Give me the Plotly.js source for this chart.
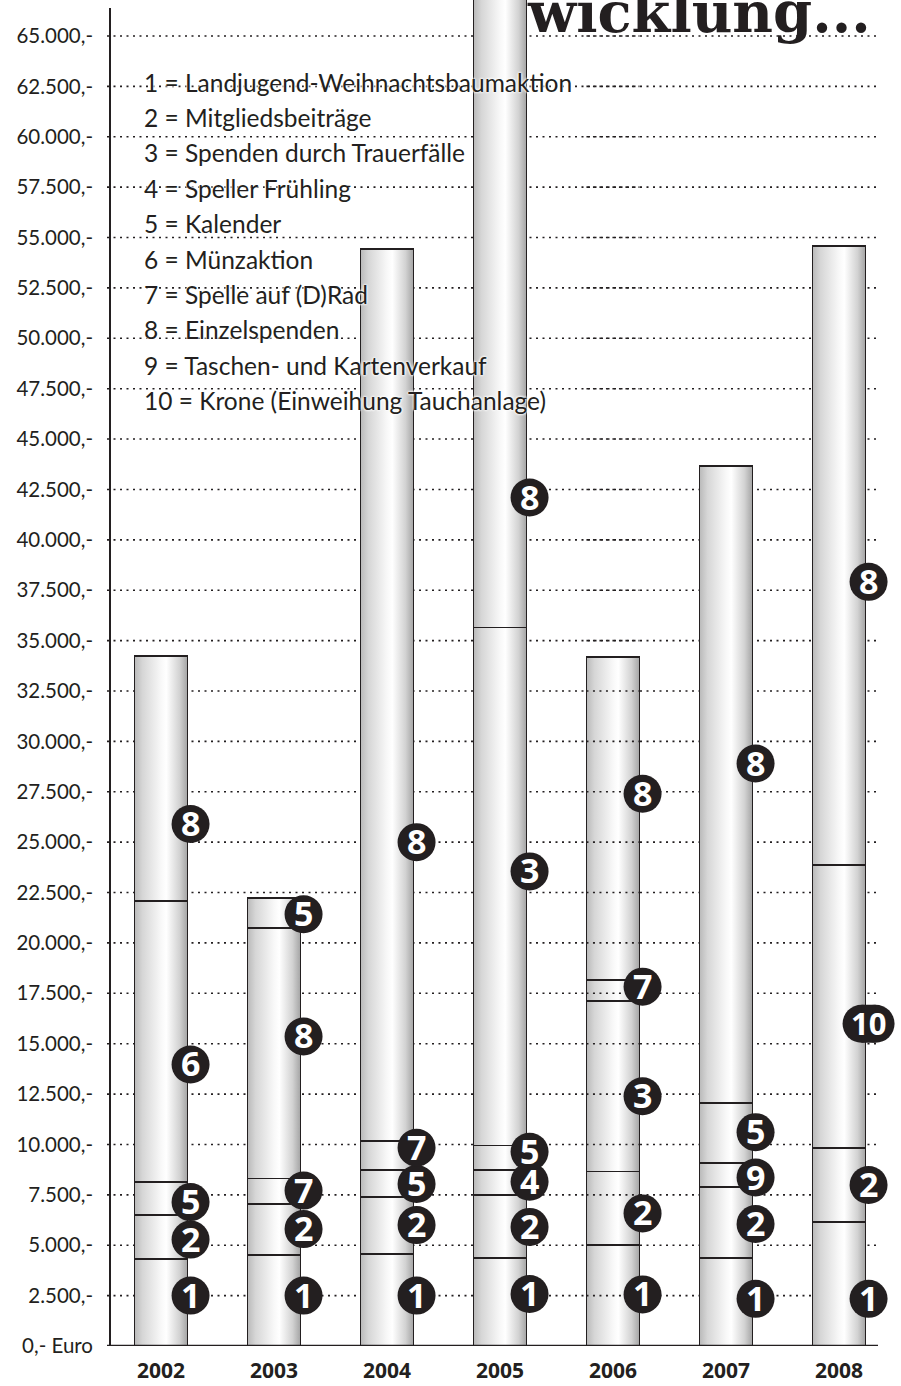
<!DOCTYPE html>
<html>
<head>
<meta charset="utf-8">
<script src="https://cdn.plot.ly/plotly-3.0.1.min.js"></script>
<style>
  html, body { margin: 0; padding: 0; background: #ffffff; }
  #chart { width: 901px; height: 1386px; }
</style>
</head>
<body>
<div id="chart"></div>
<script>
// ---------- DATA ----------
const years = [2002, 2003, 2004, 2005, 2006, 2007, 2008];
const yearLabels = ['2002', '2003', '2004', '2005', '2006', '2007', '2008'];

// segment category numbers per year (bottom to top)
const cats2002 = [1, 2, 5, 6, 8];
const cats2003 = [1, 2, 7, 8, 5];
const cats2004 = [1, 2, 5, 7, 8];
const cats2005 = [1, 2, 4, 5, 3, 8];
const cats2006 = [1, 2, 3, 7, 8];
const cats2007 = [1, 2, 9, 5, 8];
const cats2008 = [1, 2, 10, 8];

// segment values in Euro (bottom to top)
const vals2002 = [4300, 2190, 1630, 13945, 12185];
const vals2003 = [4500, 2540, 1270, 12425, 1480];
const vals2004 = [4580, 2800, 1360, 1420, 44290];
const vals2005 = [4350, 3130, 1260, 1210, 25700, 35000];
const vals2006 = [5000, 3660, 8470, 1050, 16000];
const vals2007 = [4350, 3520, 1200, 2980, 31610];
const vals2008 = [6140, 3690, 14050, 30700];

// value at which each segment's number badge sits
const lab2002 = [2500, 5280, 7140, 13970, 25900];
const lab2003 = [2500, 5800, 7710, 15360, 21420];
const lab2004 = [2500, 6000, 8040, 9840, 25000];
const lab2005 = [2580, 5910, 8150, 9640, 23550, 42100];
const lab2006 = [2560, 6580, 12390, 17830, 27400];
const lab2007 = [2340, 6050, 8360, 10610, 28900];
const lab2008 = [2340, 7990, 15990, 37915];

// legend
const legendNums = ['1', '2', '3', '4', '5', '6', '7', '8', '9', '10'];
const legendNames = [
  'Landjugend-Weihnachtsbaumaktion',
  'Mitgliedsbeiträge',
  'Spenden durch Trauerfälle',
  'Speller Frühling',
  'Kalender',
  'Münzaktion',
  'Spelle auf (D)Rad',
  'Einzelspenden',
  'Taschen- und Kartenverkauf',
  'Krone (Einweihung Tauchanlage)'
];

// y axis ticks
const yTickVals = [0, 2500, 5000, 7500, 10000, 12500, 15000, 17500, 20000, 22500, 25000,
  27500, 30000, 32500, 35000, 37500, 40000, 42500, 45000, 47500, 50000, 52500, 55000,
  57500, 60000, 62500, 65000];
const yTickText = ['0,- Euro', '2.500,-', '5.000,-', '7.500,-', '10.000,-', '12.500,-',
  '15.000,-', '17.500,-', '20.000,-', '22.500,-', '25.000,-', '27.500,-', '30.000,-',
  '32.500,-', '35.000,-', '37.500,-', '40.000,-', '42.500,-', '45.000,-', '47.500,-',
  '50.000,-', '52.500,-', '55.000,-', '57.500,-', '60.000,-', '62.500,-', '65.000,-'];

const titleText = 'wicklung...';
const seeThroughYear = 2006;

// ---------- BUILD ----------
const INK = '#231f20';
const allCats = [cats2002, cats2003, cats2004, cats2005, cats2006, cats2007, cats2008];
const allVals = [vals2002, vals2003, vals2004, vals2005, vals2006, vals2007, vals2008];
const allLab = [lab2002, lab2003, lab2004, lab2005, lab2006, lab2007, lab2008];

const W = 901, H = 1386;
const mL = 110, mR = 5, mT = 0, mB = 40;
const plotW = W - mL - mR, plotH = H - mT - mB;
const px2paperX = px => (px - mL) / plotW;

const barW = 0.47;
const yMax = 66786;
const DOT = '2px,4.5px';

const traces = [];
const nLayers = Math.max(...allVals.map(v => v.length));
for (let k = 0; k < nLayers; k++) {
  traces.push({
    type: 'bar',
    x: years,
    y: allVals.map(v => (k < v.length ? v[k] : null)),
    width: barW,
    marker: { color: '#e8e8e8', line: { color: INK, width: 1.8 } },
    hoverinfo: 'skip'
  });
}

const shapes = [];
// dotted gridlines (behind bars)
yTickVals.slice(1).forEach(v => {
  shapes.push({
    type: 'line', xref: 'paper', yref: 'y', x0: px2paperX(107), x1: px2paperX(877), y0: v, y1: v,
    line: { color: INK, width: 1.6, dash: DOT }, layer: 'below'
  });
});
// gridlines visible across the see-through bar
yTickVals.slice(1).forEach(v => {
  shapes.push({
    type: 'line', xref: 'x', yref: 'y',
    x0: seeThroughYear - barW / 2, x1: seeThroughYear + barW / 2, y0: v, y1: v,
    line: { color: INK, width: 1.6, dash: DOT }, layer: 'above'
  });
});
// axis lines
shapes.push({
  type: 'line', xref: 'paper', yref: 'y', x0: 0, x1: 0, y0: 0, y1: yMax * (1 - 8 / plotH),
  line: { color: INK, width: 2 }, layer: 'above'
});
shapes.push({
  type: 'line', xref: 'paper', yref: 'y', x0: px2paperX(107), x1: px2paperX(878), y0: 0, y1: 0,
  line: { color: INK, width: 2.5 }, layer: 'above'
});

const annotations = [];
const R = 19, DX = 3;
years.forEach((yr, i) => {
  allCats[i].forEach((c, k) => {
    const xa = yr + barW / 2;
    const ya = allLab[i][k];
    const txt = String(c);
    if (txt.length > 1) {
      [-7, 7].forEach(off => shapes.push({
        type: 'circle', xref: 'x', yref: 'y', xsizemode: 'pixel', ysizemode: 'pixel',
        xanchor: xa, yanchor: ya, x0: DX + off - R, x1: DX + off + R, y0: -R, y1: R,
        fillcolor: INK, line: { width: 0 }, layer: 'above'
      }));
      shapes.push({
        type: 'rect', xref: 'x', yref: 'y', xsizemode: 'pixel', ysizemode: 'pixel',
        xanchor: xa, yanchor: ya, x0: DX - 7, x1: DX + 7, y0: -R, y1: R,
        fillcolor: INK, line: { width: 0 }, layer: 'above'
      });
    } else {
      shapes.push({
        type: 'circle', xref: 'x', yref: 'y', xsizemode: 'pixel', ysizemode: 'pixel',
        xanchor: xa, yanchor: ya, x0: DX - R, x1: DX + R, y0: -R, y1: R,
        fillcolor: INK, line: { width: 0 }, layer: 'above'
      });
    }
    annotations.push({
      xref: 'x', yref: 'y', x: xa, y: ya, xshift: DX, yshift: 1,
      text: txt, showarrow: false, xanchor: 'center', yanchor: 'middle',
      font: { family: 'Open Sans', size: txt.length > 1 ? 31 : 34, weight: 'bold', color: '#ffffff' }
    });
  });
});

// legend lines
const legendTop = 82, legendStep = 35.4;
legendNums.forEach((n, i) => {
  annotations.push({
    xref: 'paper', yref: 'paper', x: px2paperX(142), y: 1 - (legendTop + i * legendStep) / plotH,
    xanchor: 'left', yanchor: 'middle', showarrow: false,
    text: n + ' = ' + legendNames[i],
    font: { family: 'Lato', size: 24.5, color: INK,
            shadow: '0px 0px 3px #ffffff, 0px 0px 3px #ffffff, 0px 0px 2px #ffffff' }
  });
});

// title (cut off at top, as in the original page)
annotations.push({
  xref: 'paper', yref: 'paper', x: px2paperX(873), y: 1, xanchor: 'right', yanchor: 'middle',
  yshift: -12, showarrow: false, text: titleText,
  font: { family: 'DejaVu Serif', size: 56, weight: 'bold', color: INK }
});

const layout = {
  width: W, height: H,
  margin: { l: mL, r: mR, t: mT, b: mB },
  paper_bgcolor: '#ffffff', plot_bgcolor: 'rgba(0,0,0,0)',
  showlegend: false, barmode: 'stack',
  xaxis: {
    range: [2002 - (161 - mL) / 113, 2008 + (W - mR - 839) / 113],
    tickmode: 'array', tickvals: years, ticktext: yearLabels,
    tickfont: { family: 'Open Sans', size: 21, weight: 'bold', color: INK },
    showgrid: false, zeroline: false, showline: false,
    ticks: '', ticklabelstandoff: 10
  },
  yaxis: {
    range: [0, yMax], tickmode: 'array', tickvals: yTickVals, ticktext: yTickText,
    tickfont: { family: 'Lato', size: 20.5, color: INK },
    showgrid: false, zeroline: false, showline: false, ticks: '', ticklabelstandoff: 16
  },
  shapes: shapes,
  annotations: annotations
};

Plotly.newPlot('chart', traces, layout, { staticPlot: true, displayModeBar: false }).then(gd => {
  const svg = gd.querySelector('svg.main-svg');
  const NS = 'http://www.w3.org/2000/svg';
  let defs = svg.querySelector('defs');
  if (!defs) { defs = document.createElementNS(NS, 'defs'); svg.insertBefore(defs, svg.firstChild); }
  const grad = document.createElementNS(NS, 'linearGradient');
  grad.setAttribute('id', 'barGrad');
  grad.setAttribute('x1', '0'); grad.setAttribute('y1', '0');
  grad.setAttribute('x2', '1'); grad.setAttribute('y2', '0');
  [[0, '#b9b9b9'], [0.15, '#d6d6d6'], [0.5, '#f8f8f8'], [0.6, '#ffffff'], [0.85, '#d2d2d2'], [1, '#a4a4a4']]
    .forEach(([o, c]) => {
      const s = document.createElementNS(NS, 'stop');
      s.setAttribute('offset', o); s.setAttribute('stop-color', c);
      grad.appendChild(s);
    });
  defs.appendChild(grad);
  gd.querySelectorAll('g.trace.bars path').forEach(p => { p.style.fill = 'url(#barGrad)'; });
});
</script>
</body>
</html>
